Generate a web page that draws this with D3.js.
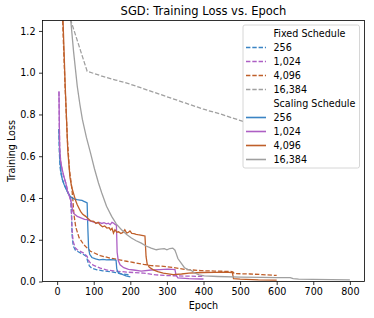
<!DOCTYPE html>
<html>
<head>
<meta charset="utf-8">
<script src="https://cdn.jsdelivr.net/npm/d3@7"></script>
<style>
body{margin:0;background:#fff}
text{font-family:"DejaVu Sans",sans-serif;fill:#000}
</style>
</head>
<body>
<div id="chart"></div>
<script>
const width = 374
const height = 318

// [epoch, loss]
const fixed256 = [[5,0.73],[6,0.62],[8,0.55],[10,0.52],[14,0.49],[19,0.465],[24,0.445],[28,0.43],[33,0.412],[37,0.40],[39,0.33],[41,0.22],[44,0.17],[50,0.15],[60,0.14],[73,0.128],[80,0.12],[83,0.10],[88,0.075],[95,0.063],[109,0.056],[125,0.051],[145,0.047],[160,0.043],[173,0.037],[188,0.034],[200,0.031]]
const fixed1024 = [[5,0.91],[6,0.75],[7,0.64],[10,0.57],[14,0.53],[20,0.49],[24,0.47],[28,0.44],[33,0.41],[37,0.39],[39,0.34],[41,0.24],[44,0.19],[50,0.16],[55,0.152],[73,0.136],[82,0.12],[86,0.10],[91,0.088],[100,0.077],[118,0.064],[135,0.056],[154,0.051],[190,0.045],[236,0.04],[270,0.032],[303,0.028],[350,0.026],[400,0.024]]
const fixed4096 = [[10,1.55],[16,1.2],[22,0.92],[28,0.68],[34,0.53],[40,0.45],[43,0.39],[46,0.32],[51,0.26],[60,0.21],[73,0.176],[91,0.145],[118,0.124],[145,0.112],[190,0.097],[236,0.082],[257,0.076],[281,0.074],[317,0.067],[348,0.058],[393,0.052],[430,0.05],[474,0.048],[480,0.046],[484,0.038],[528,0.036],[560,0.033],[600,0.029]]
const fixed16384 = [[10,1.4],[82,1.007],[120,0.985],[160,0.965],[200,0.945],[250,0.915],[300,0.885],[350,0.855],[400,0.825],[450,0.80],[520,0.76],[600,0.715],[700,0.66],[800,0.60]]

const scaling256 = [[5,0.73],[7,0.6],[10,0.53],[14,0.49],[19,0.465],[24,0.445],[28,0.43],[35,0.41],[41,0.40],[48,0.395],[55,0.392],[62,0.39],[68,0.388],[73,0.384],[78,0.38],[82,0.376],[84,0.25],[86,0.16],[89,0.13],[95,0.115],[105,0.108],[115,0.104],[125,0.106],[135,0.104],[145,0.105],[155,0.104],[161,0.102],[163,0.06],[166,0.045],[175,0.036],[188,0.027],[200,0.022]]
const scaling1024 = [[5,0.91],[6,0.75],[7,0.63],[10,0.57],[14,0.536],[19,0.50],[24,0.47],[28,0.435],[33,0.41],[37,0.39],[40,0.37],[42,0.34],[46,0.325],[55,0.312],[65,0.305],[75,0.298],[82,0.296],[90,0.29],[100,0.284],[109,0.28],[115,0.283],[122,0.278],[128,0.282],[135,0.276],[140,0.279],[145,0.272],[150,0.283],[154,0.28],[159,0.272],[162,0.27],[164,0.14],[167,0.1],[172,0.08],[182,0.066],[195,0.058],[209,0.055],[230,0.05],[257,0.055],[280,0.057],[303,0.059],[315,0.058],[322,0.057],[325,0.03],[330,0.017],[360,0.014],[393,0.012],[400,0.012]]
const scaling4096 = [[10,1.55],[16,1.255],[22,0.94],[29,0.63],[35,0.5],[40,0.45],[46,0.415],[51,0.385],[55,0.368],[60,0.35],[64,0.336],[70,0.322],[78,0.312],[85,0.3],[92,0.29],[100,0.288],[106,0.278],[112,0.283],[118,0.27],[124,0.262],[130,0.266],[136,0.256],[142,0.258],[146,0.247],[150,0.255],[154,0.232],[158,0.248],[163,0.236],[168,0.238],[174,0.23],[180,0.235],[185,0.248],[190,0.232],[195,0.236],[199,0.242],[204,0.23],[210,0.229],[216,0.226],[221,0.224],[228,0.222],[235,0.22],[240,0.218],[243,0.12],[246,0.085],[252,0.068],[263,0.056],[275,0.047],[290,0.04],[317,0.033],[340,0.036],[360,0.04],[380,0.042],[400,0.043],[430,0.044],[460,0.045],[479,0.043],[482,0.014],[500,0.011],[550,0.008],[600,0.007]]
const scaling16384 = [[30,1.6],[37,1.255],[45,1.1],[55,0.935],[62,0.85],[69,0.776],[80,0.69],[91,0.617],[102,0.54],[113,0.472],[122,0.424],[135,0.36],[149,0.312],[162,0.275],[176,0.248],[190,0.225],[203,0.208],[216,0.195],[230,0.184],[243,0.17],[257,0.16],[271,0.152],[280,0.155],[293,0.157],[300,0.152],[308,0.158],[316,0.16],[322,0.15],[325,0.136],[330,0.11],[339,0.088],[348,0.066],[357,0.058],[366,0.054],[375,0.042],[388,0.032],[402,0.027],[438,0.024],[501,0.021],[560,0.02],[600,0.019],[637,0.019],[645,0.014],[660,0.011],[700,0.01],[750,0.009],[800,0.008]]

const batchLabels = ["256","1,024","4,096","16,384"]
const colors = ["#3a84c4","#ad5fc4","#bf5f2a","#a0a0a0"]
const xTicks = [0,100,200,300,400,500,600,700,800]
const yTicks = [0,0.2,0.4,0.6,0.8,1.0,1.2]

const fixedSeries = [fixed256,fixed1024,fixed4096,fixed16384]
const scalingSeries = [scaling256,scaling1024,scaling4096,scaling16384]

const margin = {left:42.5, right:9.5, top:20.5, bottom:36.5}

const svg = d3.select("#chart")
.append("svg")
.attr("width",width)
.attr("height",height)

const x = d3.scaleLinear().domain([-40,840]).range([margin.left,width-margin.right])
const y = d3.scaleLinear().domain([0,1.25]).range([height-margin.bottom,margin.top])

svg.append("clipPath")
.attr("id","clip")
.append("rect")
.attr("x",margin.left)
.attr("y",margin.top)
.attr("width",width-margin.left-margin.right)
.attr("height",height-margin.top-margin.bottom)

const line = d3.line()
.x(d=>x(d[0]))
.y(d=>y(d[1]))

const plot = svg.append("g").attr("clip-path","url(#clip)")

const dash = "4.4,1.9"

// fixed schedule (dashed) then scaling schedule (solid)
fixedSeries.forEach((s,i)=>{
plot.append("path")
.attr("d",line(s))
.attr("fill","none")
.attr("stroke",colors[i])
.attr("stroke-width",1.3)
.attr("stroke-dasharray",dash)
})

scalingSeries.forEach((s,i)=>{
plot.append("path")
.attr("d",line(s))
.attr("fill","none")
.attr("stroke",colors[i])
.attr("stroke-width",1.3)
})

// axes
const xAxis = svg.append("g")
.attr("transform",`translate(0,${height-margin.bottom})`)
.call(d3.axisBottom(x).tickValues(xTicks).tickSize(3.5).tickPadding(3.5).tickFormat(d3.format("d")))

const yAxis = svg.append("g")
.attr("transform",`translate(${margin.left},0)`)
.call(d3.axisLeft(y).tickValues(yTicks).tickSize(3.5).tickPadding(3.5).tickFormat(d3.format(".1f")))

svg.selectAll(".domain").remove()
svg.selectAll(".tick line").attr("stroke","#000").attr("stroke-width",0.8)
svg.selectAll(".tick text").style("font-family","DejaVu Sans").style("font-size","9.6px").attr("fill","#000")

svg.append("rect")
.attr("x",margin.left)
.attr("y",margin.top)
.attr("width",width-margin.left-margin.right)
.attr("height",height-margin.top-margin.bottom)
.attr("fill","none")
.attr("stroke","#000")
.attr("stroke-width",0.8)

// labels
svg.append("text")
.attr("x",(margin.left+width-margin.right)/2)
.attr("y",14.5)
.attr("text-anchor","middle")
.style("font-size","11.5px")
.text("SGD: Training Loss vs. Epoch")

svg.append("text")
.attr("x",(margin.left+width-margin.right)/2)
.attr("y",308.5)
.attr("text-anchor","middle")
.style("font-size","9.6px")
.text("Epoch")

svg.append("text")
.attr("transform",`translate(15,${(margin.top+height-margin.bottom)/2}) rotate(-90)`)
.attr("text-anchor","middle")
.style("font-size","9.6px")
.text("Training Loss")

// legend
const legend = svg.append("g").attr("transform","translate(243,25)")

legend.append("rect")
.attr("width",116.5)
.attr("height",143)
.attr("rx",2)
.attr("fill","#fff")
.attr("stroke","#ccc")
.attr("stroke-width",0.8)

const rows = []
rows.push({label:"Fixed Schedule"})
batchLabels.forEach((b,i)=>rows.push({label:b,color:colors[i],dashed:true}))
rows.push({label:"Scaling Schedule"})
batchLabels.forEach((b,i)=>rows.push({label:b,color:colors[i],dashed:false}))

const entries = legend.selectAll("g.entry")
.data(rows)
.enter()
.append("g")
.attr("class","entry")
.attr("transform",(d,i)=>`translate(0,${8.5+i*14})`)

entries.filter(d=>d.color)
.append("line")
.attr("x1",3)
.attr("x2",23)
.attr("stroke",d=>d.color)
.attr("stroke-width",1.6)
.attr("stroke-dasharray",d=>d.dashed?dash:null)

entries.append("text")
.attr("x",30.5)
.attr("y",3.4)
.style("font-size","9.6px")
.text(d=>d.label)
</script>
</body>
</html>
